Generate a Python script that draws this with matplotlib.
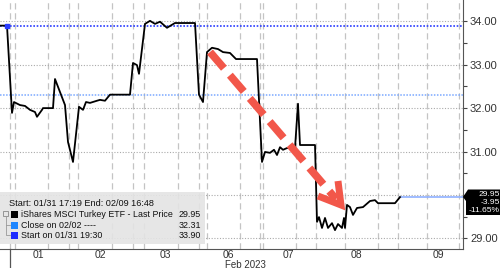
import matplotlib
matplotlib.use("Agg")
import matplotlib.pyplot as plt
from matplotlib.transforms import Affine2D
from matplotlib.patches import Rectangle, Polygon

# trading-time index (left to right across the chart) and last price
t = [0, 7, 12, 14, 20, 25, 30, 35, 37, 42,
     43, 53, 55, 60, 65, 68, 73, 79, 83, 86,
     90, 97, 100, 105, 110, 130, 133, 137, 139, 145,
     150, 155, 160, 167, 172, 175, 195, 199, 203, 207,
     212, 218, 223, 230, 236, 257, 262, 265, 270, 274,
     277, 280, 283, 287, 295, 298, 300, 315, 317, 319,
     322, 325, 328, 332, 335, 338, 342, 344, 345, 347,
     350, 353, 357, 363, 370, 375, 378, 395, 400]
price = [33.90, 33.90, 31.89, 32.14, 32.07, 32.05, 31.96, 31.91, 31.80, 31.96,
         32.00, 32.00, 32.67, 32.37, 32.07, 31.22, 30.76, 32.03, 31.96, 32.14,
         32.12, 32.17, 32.19, 32.17, 32.31, 32.31, 33.04, 32.99, 32.79, 33.94,
         34.01, 33.94, 33.99, 33.85, 33.92, 33.96, 33.96, 32.31, 32.14, 33.29,
         33.39, 33.36, 33.29, 33.27, 33.13, 33.13, 30.76, 30.99, 30.97, 31.04,
         30.92, 31.10, 31.04, 31.08, 31.08, 32.10, 31.15, 31.15, 29.38, 29.49,
         29.24, 29.47, 29.24, 29.35, 29.19, 29.33, 29.24, 29.47, 29.24, 29.77,
         29.72, 29.54, 29.70, 29.72, 29.86, 29.88, 29.81, 29.81, 29.95]

start_price = 33.90
close_0202 = 32.31
last_price = 29.95
change = -3.95
change_pct = -11.65

day_labels = ["01", "02", "03", "06", "07", "08", "09"]
day_pos = [38, 100, 165, 228, 288, 356, 438]
session_lines = [9.5, 15, 48, 69, 78, 112, 133, 144, 178, 199, 207, 240,
                 260, 263, 296, 316, 345, 378, 398, 427, 459]
y_ticks = [29, 30, 31, 32, 33, 34]

FONT = "Liberation Sans"

fig = plt.figure(figsize=(5.0, 2.68), dpi=100)
ax = fig.add_axes([0, 19 / 268, 463 / 500, 249 / 268])
ax.set_xlim(0, 463)
ax.set_ylim(28.755, 34.49)

# pixel transform (image coords, y down) for annotations
pix = Affine2D().scale(1 / 100, -1 / 100).translate(0, 2.68) + fig.dpi_scale_trans

for x in session_lines:
    ax.axvline(x, color="#c4c4c4", lw=0.9, dashes=(5, 3), zorder=1)
for y in y_ticks:
    ax.axhline(y, color="#aaaaaa", lw=0.8, ls=(0, (1, 1.5)), zorder=1)

ax.axhline(start_price, color="#2a3cff", lw=1.2, ls=(0, (1, 1)), zorder=2)
ax.axhline(close_0202, color="#7aa8ff", lw=1.1, ls=(0, (1, 1)), zorder=2)
ax.plot([t[-1], 463], [last_price, last_price], color="#8fb0ff", lw=1.2, zorder=2)
ax.plot(t, price, color="black", lw=1.3, zorder=3)
ax.plot([t[1]], [start_price], marker="s", ms=3.5, color="#2a3cff", zorder=4)

# axes styling
for s in ["top", "left"]:
    ax.spines[s].set_visible(False)
ax.spines["right"].set_color("#555555")
ax.spines["bottom"].set_color("#555555")
ax.yaxis.tick_right()
ax.set_yticks(y_ticks)
ax.set_yticklabels(["29.00", "", "31.00", "32.00", "33.00", "34.00"])
ax.set_yticks([29.5, 30.5, 31.5, 32.5, 33.5], minor=True)
ax.tick_params(axis="y", which="both", direction="out", length=3, width=0.8,
               color="#444444", labelsize=8, labelcolor="#333333", pad=2)
ax.set_xticks(day_pos)
ax.set_xticklabels(day_labels)
ax.tick_params(axis="x", length=0, labelsize=7.5, labelcolor="#333333", pad=0.5)
for lab in ax.get_xticklabels() + ax.get_yticklabels():
    lab.set_family(FONT)
fig.text(245, 264.5, "Feb 2023", transform=pix, ha="center", va="center",
         fontsize=7, color="#333333", family=FONT)
fig.add_artist(plt.Line2D([9.5, 9.5], [249, 268], transform=pix, color="#555555", lw=0.9))

# red dashed arrow
fig.add_artist(plt.Line2D([210, 336], [52, 199], transform=pix, color="#f2574a",
                          lw=5.5, dashes=(2.8, 1.2), solid_capstyle="butt",
                          dash_capstyle="butt"))
fig.add_artist(plt.Line2D([318, 341, 338], [196, 205, 181], transform=pix,
                          color="#f2574a", lw=5.0, solid_capstyle="butt",
                          solid_joinstyle="miter"))

# legend box
fig.add_artist(Rectangle((0, 192), 205, 52, transform=pix, facecolor="#e4e4e4",
                         edgecolor="none", alpha=0.9))
fig.text(9, 204, "Start: 01/31 17:19 End: 02/09 16:48", transform=pix,
         va="center", fontsize=6.6, color="#111111", family=FONT)
rows = [("iShares MSCI Turkey ETF - Last Price", f"{last_price:.2f}", "black", 214.5),
        ("Close on 02/02 ----", f"{close_0202:.2f}", "#1e86ff", 225),
        ("Start on 01/31 19:30", f"{start_price:.2f}", "#1d2cff", 235.5)]
for label, val, col, y in rows:
    fig.add_artist(Rectangle((11, y - 3.5), 7, 7, transform=pix, facecolor=col,
                             edgecolor="none"))
    fig.text(21, y, label, transform=pix, va="center", fontsize=6.4,
             color="#111111", family=FONT)
    fig.text(201, y, val, transform=pix, va="center", ha="right", fontsize=6.4,
             color="#111111", family=FONT)
fig.add_artist(Rectangle((3, 211), 5, 5, transform=pix, facecolor="none",
                         edgecolor="#888888", lw=0.6))
fig.add_artist(plt.Line2D([5.5, 5.5, 10], [216, 235, 235], transform=pix,
                          color="#999999", lw=0.6))
fig.add_artist(plt.Line2D([5.5, 10], [225, 225], transform=pix,
                          color="#999999", lw=0.6))

# last price box
fig.add_artist(Polygon([(463, 197), (468, 189.5), (500, 189.5), (500, 215), (466, 215),
                        (466, 201)], closed=True, transform=pix,
                       facecolor="black", edgecolor="none"))
for txt, y in [(f"{last_price:.2f}", 194), (f"{change:.2f}", 202), (f"{change_pct:.2f}%", 210)]:
    fig.text(500, y, txt, transform=pix, ha="right", va="center", fontsize=6.1,
             color="white", family=FONT)

fig.savefig("out.png", dpi=100)
